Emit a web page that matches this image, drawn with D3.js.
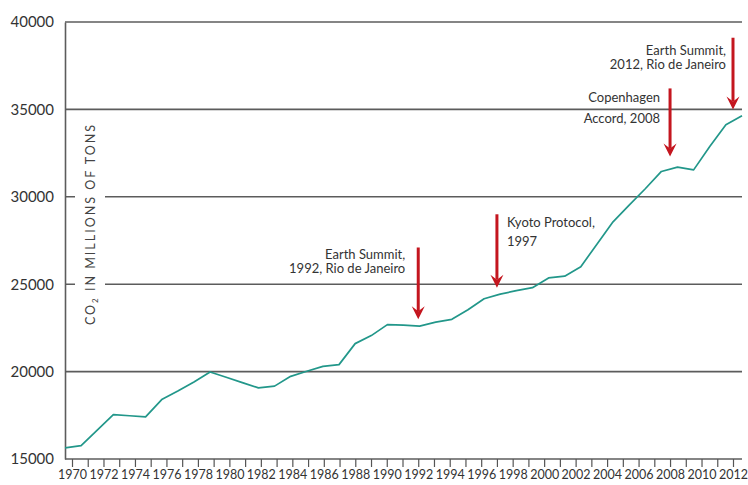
<!DOCTYPE html>
<html>
<head>
<meta charset="utf-8">
<script src="https://cdn.jsdelivr.net/npm/d3@7"></script>
<style>
  body { margin: 0; background: #fff; }
  svg { display: block; font-family: Lato, "Open Sans", sans-serif; }
  .axis text { fill: #333; }
</style>
</head>
<body>
<script>
  // global CO2 emissions, millions of tons, one value per year
  var years = d3.range(1970, 2013);
  var emissions = [
    15640, 15770, 16650, 17540, 17475, 17410, 18400, 18890, 19410, 19980,
    19680, 19370, 19070, 19170, 19730, 20020, 20300, 20400, 21600, 22060,
    22690, 22660, 22600, 22830, 22990, 23540, 24170, 24430, 24630, 24800,
    25360, 25460, 26000, 27290, 28570, 29520, 30460, 31450, 31700, 31540,
    32880, 34120, 34630
  ];
  var yTicks = [15000, 20000, 25000, 30000, 35000, 40000];
  var gridValues = [20000, 25000, 30000, 35000, 40000];

  // annotated events: year, arrow top value, arrow tip value
  var eventYears = [1992, 1997, 2008, 2012];
  var arrowTop = [27100, 29000, 36200, 39100];
  var arrowTip = [23000, 24800, 32300, 35000];
  var eventText = [
    ["Earth Summit,", "1992, Rio de Janeiro"],
    ["Kyoto Protocol,", "1997"],
    ["Copenhagen", "Accord, 2008"],
    ["Earth Summit,", "2012, Rio de Janeiro"]
  ];

  var width = 748, height = 485;
  var plotLeft = 65, plotRight = 742, plotTop = 22, plotBottom = 459;

  var svg = d3.select("body").append("svg")
      .attr("width", width)
      .attr("height", height);

  // the line runs edge to edge, the year ticks sit a little inside
  var xLine = d3.scalePoint().domain(years).range([plotLeft, plotRight]);
  var xAxis = d3.scalePoint().domain(years).range([72, 733]);
  var y = d3.scaleLinear().domain([15000, 40000]).range([plotBottom, plotTop]);

  // grid
  svg.append("g").selectAll("line")
    .data(gridValues)
    .enter().append("line")
      .attr("x1", plotLeft)
      .attr("x2", plotRight)
      .attr("y1", function(d) { return y(d); })
      .attr("y2", function(d) { return y(d); })
      .attr("stroke", "#5c5c5c")
      .attr("stroke-width", 1.6);

  // y label with white box that breaks the grid
  var labelX = 90, labelY = 224;
  svg.append("rect")
    .attr("x", labelX - 15)
    .attr("y", labelY - 108)
    .attr("width", 30)
    .attr("height", 216)
    .attr("fill", "#fff");

  var ylab = svg.append("text")
    .attr("transform", "translate(" + labelX + "," + labelY + ") rotate(-90)")
    .attr("text-anchor", "middle")
    .attr("dy", "0.36em")
    .attr("font-size", "12.5px")
    .attr("letter-spacing", "2px")
    .attr("fill", "#444");
  ylab.append("tspan").text("CO");
  ylab.append("tspan").attr("font-size", "8px").attr("dy", "3").text("2");
  ylab.append("tspan").attr("dy", "-3").text(" IN MILLIONS OF TONS");

  // y axis
  var gy = svg.append("g")
      .attr("class", "axis")
      .attr("transform", "translate(" + plotLeft + ",0)")
      .call(d3.axisLeft(y).tickValues(yTicks).tickSize(0).tickSizeOuter(0).tickPadding(11).tickFormat(d3.format("d")));
  gy.attr("font-family", null);
  gy.select(".domain").attr("stroke", "#5c5c5c").attr("stroke-width", 1.6);
  gy.selectAll("text").attr("font-size", "15px");

  // x axis
  svg.append("line")
    .attr("x1", plotLeft)
    .attr("x2", plotRight)
    .attr("y1", plotBottom)
    .attr("y2", plotBottom)
    .attr("stroke", "#5c5c5c")
    .attr("stroke-width", 1.6);

  var gx = svg.append("g")
      .attr("class", "axis")
      .attr("transform", "translate(0," + plotBottom + ")")
      .call(d3.axisBottom(xAxis)
        .tickValues(years)
        .tickSize(8)
        .tickPadding(3)
        .tickFormat(function(d) { return d % 2 === 0 ? d : ""; }));
  gx.attr("font-family", null);
  gx.select(".domain").remove();
  gx.selectAll(".tick line").attr("stroke", "#555").attr("stroke-width", 1.2);
  gx.selectAll("text").attr("font-size", "12.5px");

  // emissions line
  var line = d3.line()
      .x(function(d, i) { return xLine(years[i]); })
      .y(function(d) { return y(d); });

  svg.append("path")
    .datum(emissions)
    .attr("fill", "none")
    .attr("stroke", "#22978a")
    .attr("stroke-width", 1.7)
    .attr("stroke-linejoin", "round")
    .attr("d", line);

  // arrows
  var red = "#c4161f";
  var ev = svg.append("g").selectAll("g")
    .data(eventYears)
    .enter().append("g");

  ev.append("line")
    .attr("x1", function(d) { return xAxis(d); })
    .attr("x2", function(d) { return xAxis(d); })
    .attr("y1", function(d, i) { return y(arrowTop[i]); })
    .attr("y2", function(d, i) { return y(arrowTip[i]) - 8; })
    .attr("stroke", red)
    .attr("stroke-width", 3);

  ev.append("path")
    .attr("fill", red)
    .attr("d", function(d, i) {
      var x = xAxis(d), t = y(arrowTip[i]);
      return "M" + x + "," + t + "L" + (x - 6.5) + "," + (t - 13) + "L" + x + "," + (t - 8) +
             "L" + (x + 6.5) + "," + (t - 13) + "Z";
    });

  // annotation text (offsets relative to the arrow top)
  var textPos = [
    { dx: -13, dy: 12, anchor: "end" },
    { dx: 10, dy: 13, anchor: "start" },
    { dx: -10, dy: 14, anchor: "end" },
    { dx: -7, dy: 17, anchor: "end" }
  ];
  var lineGap = [14, 19, 21, 14];

  ev.append("text")
    .attr("font-size", "13px")
    .attr("fill", "#333")
    .attr("text-anchor", function(d, i) { return textPos[i].anchor; })
    .each(function(d, i) {
      var t = d3.select(this);
      var x = xAxis(d) + textPos[i].dx;
      var yy = y(arrowTop[i]) + textPos[i].dy;
      eventText[i].forEach(function(s, k) {
        t.append("tspan")
          .attr("x", x)
          .attr("y", yy + k * lineGap[i])
          .text(s);
      });
    });
</script>
</body>
</html>
